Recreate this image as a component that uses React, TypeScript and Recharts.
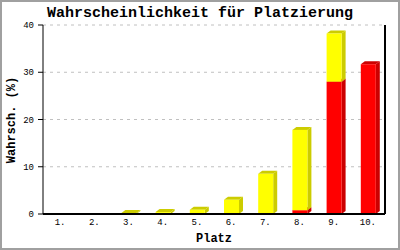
import { BarChart, Bar, XAxis, YAxis, CartesianGrid } from 'recharts';

const PLACES = ['1.', '2.', '3.', '4.', '5.', '6.', '7.', '8.', '9.', '10.'];
const RED = [0, 0, 0, 0, 0, 0, 0, 0.8, 28.0, 31.7];
const YELLOW = [0, 0, 0.2, 0.4, 0.9, 3.0, 8.5, 17.0, 10.2, 0];
const Y_TICKS = [0, 10, 20, 30, 40];

const data = PLACES.map((p, i) => ({ place: p, red: RED[i], yellow: YELLOW[i] }));

const FONT = '"Liberation Mono", "DejaVu Sans Mono", monospace';
const DX = 4;
const DY = 3;

// front face + right side + top face, to fake the 3d look
function Box3D(props: any) {
  const { x, y, width, height, fill, side } = props;
  if (!height || height <= 0) return null;
  const r = x + width;
  const b = y + height;
  return (
    <g>
      <polygon
        points={`${r},${y} ${r + DX},${y - DY} ${r + DX},${b - DY} ${r},${b}`}
        fill={side}
      />
      <polygon
        points={`${x},${y} ${x + DX},${y - DY} ${r + DX},${y - DY} ${r},${y}`}
        fill={side}
      />
      <rect x={x} y={y} width={width} height={height} fill={fill} />
    </g>
  );
}

export default function App() {
  return (
    <div
      style={{
        position: 'absolute',
        left: 0,
        top: 0,
        width: 400,
        height: 250,
        boxSizing: 'border-box',
        border: '2px solid #a0a0a0',
        background: '#fff',
        fontFamily: FONT,
      }}
    >
      <div
        style={{
          position: 'absolute',
          left: -2,
          top: 3,
          width: 400,
          textAlign: 'center',
          fontSize: 15,
          fontWeight: 'bold',
          lineHeight: '18px',
        }}
      >
        Wahrscheinlichkeit für Platzierung
      </div>
      <div
        style={{
          position: 'absolute',
          left: 12 - 2 - 60,
          top: 120 - 2 - 8,
          width: 120,
          textAlign: 'center',
          fontSize: 12,
          fontWeight: 'bold',
          lineHeight: '16px',
          transform: 'rotate(-90deg)',
        }}
      >
        Wahrsch. (%)
      </div>
      <div
        style={{
          position: 'absolute',
          left: 214 - 2 - 40,
          top: 239 - 2 - 8,
          width: 80,
          textAlign: 'center',
          fontSize: 12,
          fontWeight: 'bold',
          lineHeight: '16px',
        }}
      >
        Platz
      </div>
      <div style={{ position: 'absolute', left: -2, top: -2 }}>
        <BarChart
          width={400}
          height={250}
          data={data}
          margin={{ top: 25, right: 15, bottom: 0, left: 0 }}
          barSize={15}
        >
          <CartesianGrid
            vertical={false}
            stroke="#c0c0c0"
            strokeDasharray="3 4"
          />
          <CartesianGrid
            horizontal={false}
            stroke="#000"
            strokeWidth={2}
            verticalCoordinatesGenerator={({ offset }: any) => [offset.left + offset.width]}
          />
          <XAxis
            dataKey="place"
            height={36}
            tickLine={false}
            tickSize={3}
            tickMargin={2}
            axisLine={{ stroke: '#000', strokeWidth: 2 }}
            tick={{ fontSize: 9, fill: '#000', fontFamily: FONT }}
            interval={0}
          />
          <YAxis
            width={43}
            domain={[0, 40]}
            ticks={Y_TICKS}
            tickSize={5}
            tickMargin={4}
            axisLine={{ stroke: '#000' }}
            tickLine={{ stroke: '#000' }}
            tick={{ fontSize: 9, fill: '#000', fontFamily: FONT }}
          />
          <Bar
            dataKey="red"
            stackId="a"
            fill="#ff0000"
            shape={(p: any) => <Box3D {...p} fill="#ff0000" side="#cc0000" />}
            isAnimationActive={false}
          />
          <Bar
            dataKey="yellow"
            stackId="a"
            fill="#ffff00"
            shape={(p: any) => <Box3D {...p} fill="#ffff00" side="#cccc00" />}
            isAnimationActive={false}
          />
        </BarChart>
      </div>
    </div>
  );
}
